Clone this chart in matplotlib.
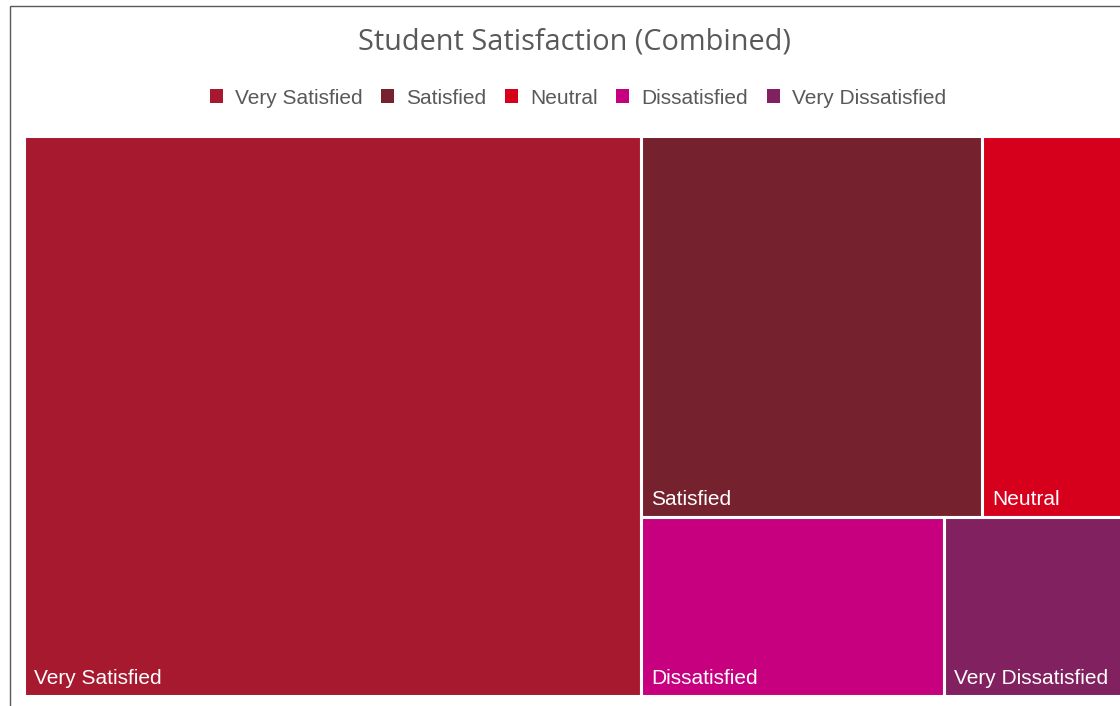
import matplotlib.pyplot as plt
from matplotlib.patches import Rectangle, Patch

# data
categories = ['Very Satisfied', 'Satisfied', 'Neutral', 'Dissatisfied', 'Very Dissatisfied']
values = [56.0, 21.0, 8.9, 8.8, 5.3]
colors = ['#A6192E', '#76212E', '#D6001C', '#C6007E', '#82215F']

W, H = 1120, 706
fig = plt.figure(figsize=(W / 100, H / 100), dpi=100)

# chart frame (cut at right and bottom like the screenshot)
fig.patches.append(Rectangle((10 / W, -0.1), 1.2, (H - 6) / H + 0.1, transform=fig.transFigure,
                             fill=False, edgecolor='#595959', linewidth=1.0))


def layout(vals, x0, y0, w, h):
    # first item takes a full-height column, the rest go in rows of two from the top
    total = sum(vals)
    rects = []
    w0 = w * vals[0] / total
    rects.append((x0, y0, w0, h))
    rest = vals[1:]
    rest_total = sum(rest)
    rx = x0 + w0
    rw = w - w0
    top = y0 + h
    for i in range(0, len(rest), 2):
        row = rest[i:i + 2]
        rh = h * sum(row) / rest_total
        top -= rh
        cx = rx
        for v in row:
            cw = rw * v / sum(row)
            rects.append((cx, top, cw, rh))
            cx += cw
    return rects


# plot area in pixels: x 24..1126, y 136..696
ax = fig.add_axes([24 / W, (H - 696) / H, 1102 / W, 560 / H])
ax.set_xlim(0, 1)
ax.set_ylim(0, 1)
ax.axis('off')

for (x, y, w, h), name, c in zip(layout(values, 0, 0, 1, 1), categories, colors):
    ax.add_patch(Rectangle((x, y), w, h, facecolor=c, edgecolor='white', linewidth=2.2))
    ax.annotate(name, xy=(x, y), xytext=(7.5, 5.5), textcoords='offset points',
                ha='left', va='bottom', color='white', fontsize=15, family='Liberation Sans')

fig.text(0.5125, (H - 42) / H, 'Student Satisfaction (Combined)', ha='center', va='center',
         fontsize=20.8, color='#595959', family='Open Sans')

handles = [Patch(facecolor=c, edgecolor='none') for c in colors]
fig.legend(handles, categories, loc='center', bbox_to_anchor=(0.516, (H - 98) / H), ncol=5,
           frameon=False, handlelength=0.62, handleheight=0.62, handletextpad=0.6,
           columnspacing=0.88, prop={'family': 'Liberation Sans', 'size': 15}, labelcolor='#595959')

fig.savefig('out.png', dpi=100)
